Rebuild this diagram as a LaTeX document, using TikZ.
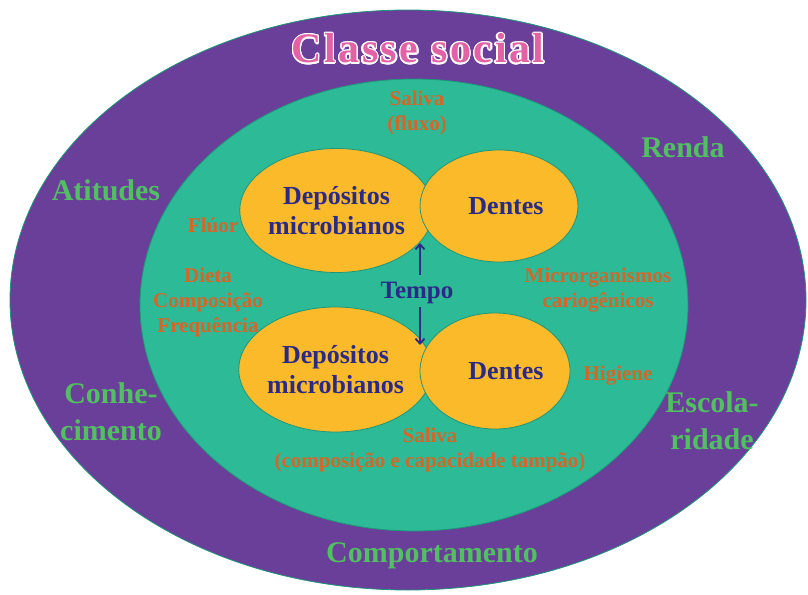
\documentclass[tikz,border=0pt]{standalone}
\usepackage{fontspec}
\setmainfont{Liberation Serif}
\newfontfamily\titlefont[LetterSpace=6]{Liberation Serif}
\usepackage{contour}
\contourlength{1.4pt}
\usetikzlibrary{shapes.geometric,arrows.meta}
\definecolor{purp}{RGB}{106,63,154}
\definecolor{tealc}{RGB}{45,186,150}
\definecolor{tealedge}{RGB}{30,150,120}
\definecolor{yel}{RGB}{251,186,42}
\definecolor{dblue}{RGB}{44,42,135}
\definecolor{orng}{RGB}{212,102,40}
\definecolor{grn}{RGB}{80,192,96}
\definecolor{pinkc}{RGB}{226,98,165}
\begin{document}
\begin{tikzpicture}[x=1pt,y=-1pt,
  blob/.style={ellipse, fill=yel, draw=tealedge, line width=0.8pt, inner sep=0pt,
    text=dblue, font=\bfseries\fontsize{26}{30}\selectfont, align=center},
  otext/.style={text=orng, font=\bfseries\fontsize{21}{25}\selectfont, align=center, inner sep=0pt},
  gtext/.style={text=grn, font=\bfseries\fontsize{30}{37}\selectfont, align=center, inner sep=0pt},
  arr/.style={draw=dblue, line width=1.8pt, -{Straight Barb[length=5pt,width=9pt]}}
]
\useasboundingbox (0,0) rectangle (808,594);
\fill[white] (0,0) rectangle (808,594);

\node[ellipse, fill=purp, draw=tealedge, line width=0.8pt, inner sep=0pt,
  minimum width=796pt, minimum height=580pt] (outer) at (408,300) {};
\node[ellipse, fill=tealc, draw=tealedge, line width=0.8pt, inner sep=0pt,
  minimum width=548pt, minimum height=452pt] (inner) at (414,305) {};

\node[blob, minimum width=167pt, minimum height=124pt] (depA) at (336.5,210.5) {Depósitos\\microbianos};
\node[blob, minimum width=158pt, minimum height=112pt] (denA) at (499,206) {\kern14pt Dentes};
\node[blob, minimum width=165pt, minimum height=125pt] (depB) at (335.5,369.5) {Depósitos\\microbianos};
\node[blob, minimum width=150pt, minimum height=116pt] (denB) at (495,371) {\kern22pt Dentes};

\node[anchor=base, inner sep=0pt, font=\titlefont\bfseries\fontsize{42}{48}\selectfont] (title) at (418,63)
  {\contour{white}{\textcolor{pinkc}{Classe social}}};

\node[otext] (salf) at (417,112.6) {Saliva\\(fluxo)};
\node[otext, anchor=base] (fluor) at (213,232) {Flúor};
\node[otext] (dieta) at (208,302.2) {Dieta\\Composição\\Frequência};
\node[otext] (micro) at (598,289.7) {Microrganismos\\cariogênicos};
\node[otext, anchor=base] (hig) at (618,380) {Higiene};
\node[otext] (salc) at (430,449.7) {Saliva\\(composição e capacidade tampão)};

\node[gtext, anchor=base] (atit) at (106,200) {Atitudes};
\node[gtext, anchor=base] (renda) at (683,157) {Renda};
\node[gtext] (conh) at (111,411.4) {Conhe-\\cimento};
\node[gtext] (esc) at (712,420.4) {Escola-\\ridade};
\node[gtext, anchor=base] (comp) at (432,562) {Comportamento};

\node[anchor=base, inner sep=0pt, text=dblue, font=\bfseries\fontsize{25}{30}\selectfont] (tempo) at (417,298) {Tempo};
\coordinate (upTail) at (420,275);
\coordinate (upTip) at (420,243);
\coordinate (dnTail) at (420,307);
\coordinate (dnTip) at (420,345);
\draw[arr] (upTail) -- (upTip);
\draw[arr] (dnTail) -- (dnTip);
\end{tikzpicture}
\end{document}
